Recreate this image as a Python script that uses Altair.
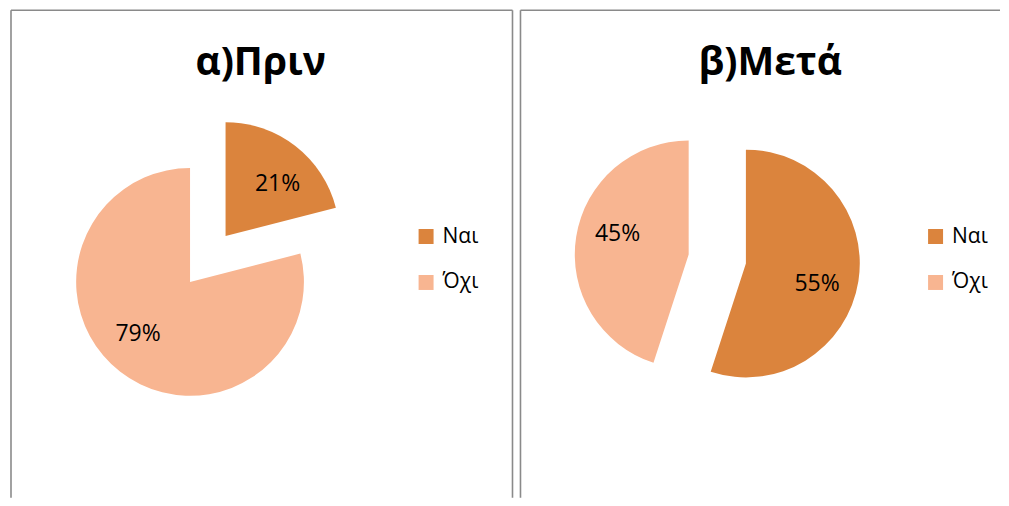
import altair as alt
import pandas as pd

# ---- data ----
categories = ["Ναι", "Όχι"]
before_values = [21, 79]
after_values = [55, 45]
panel_titles = ["α)Πριν", "β)Μετά"]
colors = ["#DB843D", "#F8B591"]

FONT = "Open Sans"
R = 114          # pie radius (px)
EXPLODE = 29     # slice explosion (px)
CX, CY = 197, 249  # pie centre inside the panel
H = 488
BORDER = "#8a8a8a"


def panel(title, values, width, right_border):
    df = pd.DataFrame({"cat": categories, "val": values,
                       "idx": list(range(len(categories)))})
    base = (
        alt.Chart(df)
        .transform_joinaggregate(total="sum(val)")
        .transform_window(cum="sum(val)", sort=[alt.SortField("idx")], frame=[None, 0])
        .transform_calculate(mid="2*PI*(datum.cum - datum.val/2)/datum.total")
        .transform_calculate(dx=f"{EXPLODE}*sin(datum.mid)")
        .transform_calculate(dy=f"-{EXPLODE}*cos(datum.mid)")
        .transform_calculate(label="datum.val + '%'")
    )
    pie = base.mark_arc(
        outerRadius=R, x=CX, y=CY,
        xOffset=alt.ExprRef("datum.dx"), yOffset=alt.ExprRef("datum.dy"),
    ).encode(
        theta=alt.Theta("val:Q", stack=True),
        order=alt.Order("idx:O"),
        color=alt.Color(
            "cat:N",
            scale=alt.Scale(domain=categories, range=colors),
            legend=alt.Legend(
                orient="none", legendX=405, legendY=216, title=None,
                symbolType="square", symbolSize=225, symbolStrokeWidth=0,
                labelFont=FONT, labelFontSize=21, labelColor="black",
                labelOffset=6, rowPadding=24, padding=0,
            ),
        ),
    )
    labels = base.mark_text(
        radius=74, thetaOffset=0.12, x=CX, y=CY, font=FONT, fontSize=23, color="black",
        xOffset=alt.ExprRef("datum.dx"), yOffset=alt.ExprRef("datum.dy"),
    ).encode(
        theta=alt.Theta("val:Q", stack=True),
        order=alt.Order("idx:O"),
        detail="cat:N",
        text="label:N",
    )
    tdf = pd.DataFrame({"t": [title]})
    ttl = alt.Chart(tdf).mark_text(
        font=FONT, fontSize=39, fontWeight="bold", align="center",
        baseline="alphabetic", color="black",
    ).encode(x=alt.value(250), y=alt.value(65), text="t:N")

    d = pd.DataFrame({"k": [0]})
    borders = [
        alt.Chart(d).mark_rule(color=BORDER, strokeWidth=1.6).encode(
            x=alt.value(0), y=alt.value(0), y2=alt.value(H)),
        alt.Chart(d).mark_rule(color=BORDER, strokeWidth=1.6).encode(
            x=alt.value(0), x2=alt.value(width), y=alt.value(0)),
    ]
    if right_border:
        borders.append(
            alt.Chart(d).mark_rule(color=BORDER, strokeWidth=1.6).encode(
                x=alt.value(width), y=alt.value(0), y2=alt.value(H)))
    return alt.layer(*borders, ttl, pie, labels).properties(width=width, height=H)


left = panel(panel_titles[0], before_values, 502, True)
right = panel(panel_titles[1], after_values, 480, False)

chart = (
    alt.hconcat(left, right, spacing=6)
    .resolve_scale(color="independent")
    .resolve_legend(color="independent")
    .properties(padding={"left": 2, "top": 1, "right": 0, "bottom": 0})
    .configure_view(strokeWidth=0)
)

chart.save("out.html", embed_options={"renderer": "svg", "actions": False})
